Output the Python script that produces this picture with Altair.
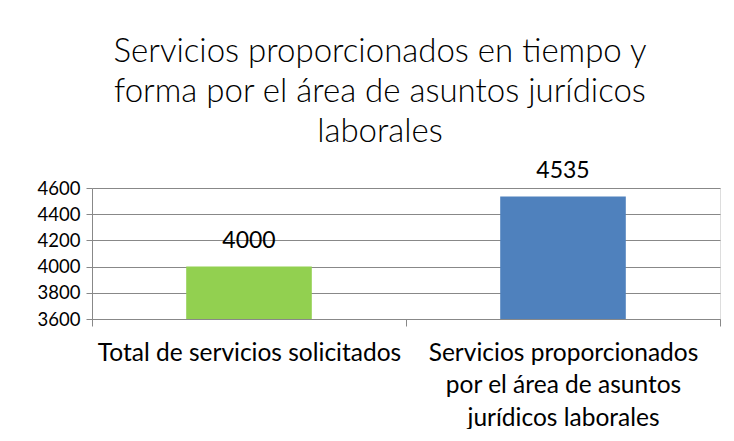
import altair as alt
import pandas as pd

# ---- data ----
categories = ["Total de servicios solicitados",
              "Servicios proporcionados por el área de asuntos jurídicos laborales"]
category_lines = [["Total de servicios solicitados"],
                  ["Servicios proporcionados", "por el área de asuntos", "jurídicos laborales"]]
values = [4000, 4535]
bar_colors = ["#92D050", "#4F81BD"]
y_ticks = [3600, 3800, 4000, 4200, 4400, 4600]
title_lines = ["Servicios proporcionados en tiempo y",
               "forma por el área de asuntos jurídicos",
               "laborales"]

y_min, y_max = y_ticks[0], y_ticks[-1]

df = pd.DataFrame({"cat": categories, "val": values, "color": bar_colors})

# label expression for wrapped category labels
parts = []
for c, lines in zip(categories, category_lines):
    arr = "[" + ",".join("'" + l + "'" for l in lines) + "]"
    parts.append(f"datum.label == '{c}' ? {arr}")
label_expr = " : ".join(parts) + " : datum.label"

GRID = "#888888"
FONT = "Lato"

x = alt.X("cat:N", sort=categories, title=None,
          scale=alt.Scale(paddingInner=0, paddingOuter=0),
          axis=alt.Axis(labelAngle=0, labelExpr=label_expr, labelFont=FONT,
                        labelFontSize=24.5, labelLineHeight=32.5, labelColor="#000000",
                        labelPadding=15, tickBand="extent", tickSize=7,
                        tickColor=GRID, domainColor=GRID, labelLimit=400,
                        grid=False))

y = alt.Y("val:Q", title=None,
          scale=alt.Scale(domain=[y_min, y_max], zero=False, nice=False),
          axis=alt.Axis(values=y_ticks, tickCount=len(y_ticks) + 4, format="d",
                        labelOverlap=False,
                        labelFont=FONT, labelFontSize=18.5,
                        labelColor="#000000", labelPadding=6, tickSize=6,
                        tickColor=GRID, domainColor=GRID, gridColor=GRID,
                        gridWidth=1.2, grid=True))

bars = alt.Chart(df).mark_bar(width=alt.RelativeBandSize(0.4)).encode(
    x=x, y=y, y2=alt.datum(y_min),
    color=alt.Color("color:N", scale=None),
)

labels = alt.Chart(df).mark_text(font=FONT, fontSize=23, baseline="alphabetic",
                                 dy=-19, color="#000000").encode(
    x=alt.X("cat:N", sort=categories),
    y=alt.Y("val:Q"),
    text=alt.Text("val:Q", format="d"),
)

chart = alt.layer(bars, labels).properties(
    width=628, height=131,
    padding={"left": 84, "top": 180, "right": 6, "bottom": 110},
    autosize=alt.AutoSizeParams(type="none"),
    title=alt.TitleParams(text=title_lines, font=FONT, fontSize=33, fontWeight=300,
                          lineHeight=40, color="#000000", anchor="middle",
                          baseline="bottom", offset=39, dx=-26, dy=61),
).configure_view(stroke=None).configure(background="#ffffff")

chart.save("out.html", embed_options={"renderer": "svg", "actions": False})
